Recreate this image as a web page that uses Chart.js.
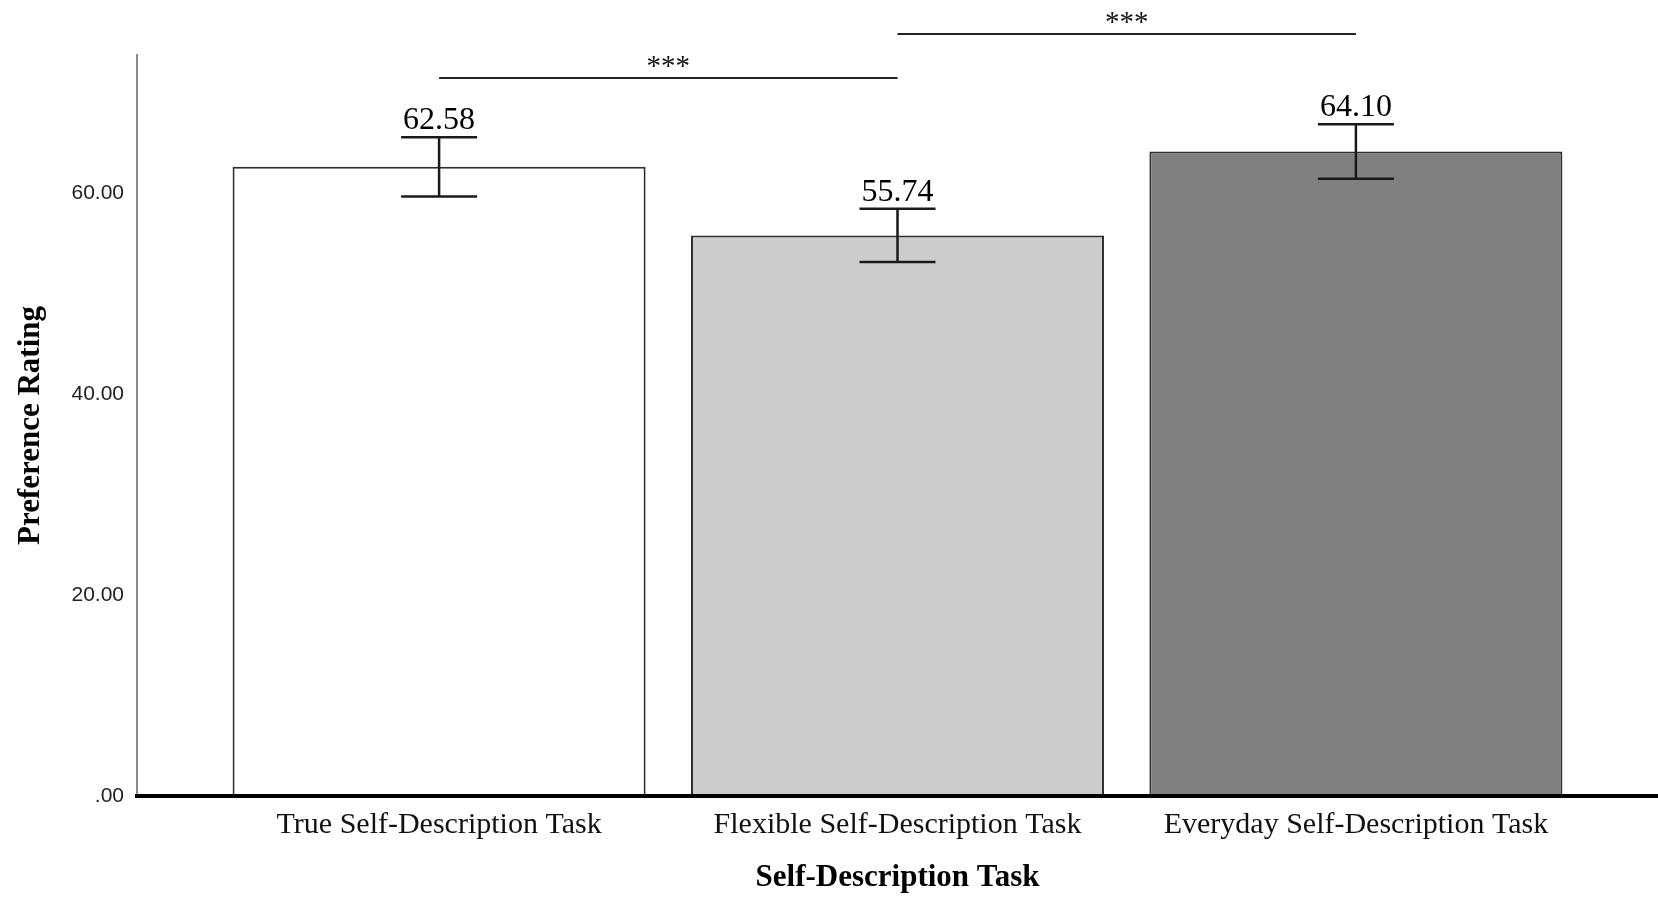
<!DOCTYPE html>
<html>
<head>
<meta charset="utf-8">
<script src="https://cdn.jsdelivr.net/npm/chart.js@4.4.1/dist/chart.umd.min.js"></script>
<style>
  html, body { margin: 0; padding: 0; background: #ffffff; }
  #wrap { width: 1658px; height: 898px; position: relative; }
</style>
</head>
<body>
<div id="wrap"><canvas id="chart"></canvas></div>
<script>
// Mean preference rating per self-description task, with error bar bounds
const categories = ['True Self-Description Task', 'Flexible Self-Description Task', 'Everyday Self-Description Task'];
const means = [62.58, 55.74, 64.10];
const errLow = [59.63, 53.10, 61.40];
const errHigh = [65.53, 58.40, 66.80];
const barColors = ['#ffffff', '#cccccc', '#808080'];
const yTicks = [0, 20, 40, 60];

// Pairwise significance brackets
const sigPairs = [[0, 1], [1, 2]];
const sigLevels = [71.4, 75.8];
const sigLabels = ['***', '***'];

const SERIF = '"Liberation Serif", "Times New Roman", serif';

const annotations = {
  id: 'annotations',
  afterDraw(chart) {
    const { ctx, scales: { x, y } } = chart;
    ctx.save();

    // error bars with caps and value labels
    means.forEach((m, i) => {
      const cx = x.getPixelForValue(i);
      const yl = y.getPixelForValue(errLow[i]);
      const yh = y.getPixelForValue(errHigh[i]);
      const half = 38;
      ctx.strokeStyle = '#1a1a1a';
      ctx.lineWidth = 2.5;
      ctx.beginPath();
      ctx.moveTo(cx, yl); ctx.lineTo(cx, yh);
      ctx.moveTo(cx - half, yl); ctx.lineTo(cx + half, yl);
      ctx.moveTo(cx - half, yh); ctx.lineTo(cx + half, yh);
      ctx.stroke();

      ctx.fillStyle = '#000000';
      ctx.font = '32px ' + SERIF;
      ctx.textAlign = 'center';
      ctx.textBaseline = 'alphabetic';
      ctx.fillText(m.toFixed(2), cx, yh - 8);
    });

    // significance brackets
    sigPairs.forEach(([a, b], k) => {
      const x1 = x.getPixelForValue(a);
      const x2 = x.getPixelForValue(b);
      const yy = y.getPixelForValue(sigLevels[k]);
      ctx.strokeStyle = '#222222';
      ctx.lineWidth = 2;
      ctx.beginPath();
      ctx.moveTo(x1, yy); ctx.lineTo(x2, yy);
      ctx.stroke();
      ctx.fillStyle = '#111111';
      ctx.font = '29px ' + SERIF;
      ctx.textAlign = 'center';
      ctx.textBaseline = 'alphabetic';
      ctx.fillText(sigLabels[k], (x1 + x2) / 2, yy - 3);
    });

    ctx.restore();
  }
};

new Chart(document.getElementById('chart'), {
  type: 'bar',
  data: {
    datasets: [{
      data: means.map((v, i) => ({ x: i, y: v })),
      backgroundColor: barColors,
      borderColor: '#2e2e2e',
      borderWidth: 2,
      borderSkipped: 'start',
      categoryPercentage: 1.0,
      barPercentage: 0.901
    }]
  },
  options: {
    responsive: true,
    maintainAspectRatio: false,
    animation: false,
    devicePixelRatio: 1,
    layout: { padding: { left: 0, right: 0, top: 55, bottom: 0 } },
    plugins: {
      legend: { display: false },
      tooltip: { enabled: false }
    },
    scales: {
      x: {
        type: 'linear',
        offset: false,
        min: -0.659,
        max: 2.659,
        grid: { display: false, drawTicks: false, offset: false },
        border: { display: true, color: '#000000', width: 4, z: 1 },
        afterBuildTicks: (scale) => { scale.ticks = categories.map((_, i) => ({ value: i })); },
        afterFit: (scale) => { scale.height = 102; },
        ticks: {
          autoSkip: false,
          maxRotation: 0,
          padding: 11,
          color: '#111111',
          font: { family: SERIF, size: 30 },
          callback: (v) => categories[v] ?? ''
        },
        title: {
          display: true,
          text: 'Self-Description Task',
          color: '#000000',
          font: { family: SERIF, size: 31, weight: 'bold' },
          padding: { top: 0, bottom: 1 }
        }
      },
      y: {
        min: 0,
        max: 73.7,
        grid: { display: false, drawTicks: false },
        border: { display: true, color: '#8c8c8c', width: 2 },
        afterBuildTicks: (scale) => { scale.ticks = yTicks.map(v => ({ value: v })); },
        afterFit: (scale) => { scale.width = 137; },
        ticks: {
          padding: 13,
          color: '#222222',
          font: { family: '"Liberation Sans", Arial, sans-serif', size: 21 },
          callback: (v) => v === 0 ? '.00' : Number(v).toFixed(2)
        },
        title: {
          display: true,
          text: 'Preference Rating',
          color: '#000000',
          font: { family: SERIF, size: 31, weight: 'bold' },
          padding: { top: 12, bottom: 0 }
        }
      }
    }
  },
  plugins: [annotations]
});
</script>
</body>
</html>
